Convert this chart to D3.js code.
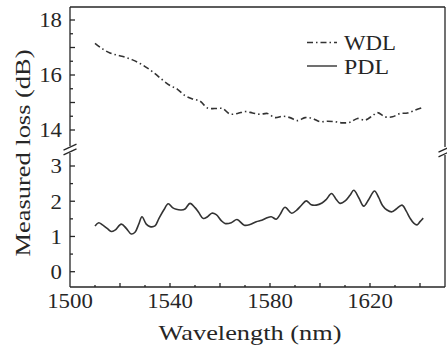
<!DOCTYPE html>
<html><head><meta charset="utf-8">
<script src="https://cdn.jsdelivr.net/npm/d3@7"></script>
<style>body{margin:0;background:#fff}svg{display:block}</style>
</head><body>
<script>
// ---- data ----
const wdlWavelength = [1510,1513,1516,1519,1522,1525,1528,1531,1534,1537,1540,1543,1546,1549,1552,1555,1558,1561,1564,1567,1570,1573,1576,1579,1582,1585,1588,1591,1594,1597,1600,1603,1606,1609,1612,1615,1618,1621,1623,1626,1629,1632,1635,1638,1641];
const wdlLoss = [17.15,16.95,16.8,16.72,16.65,16.55,16.42,16.25,16.05,15.82,15.62,15.48,15.25,15.13,15.05,14.8,14.78,14.78,14.58,14.6,14.67,14.62,14.57,14.6,14.45,14.5,14.45,14.34,14.45,14.42,14.3,14.32,14.3,14.26,14.28,14.42,14.36,14.52,14.63,14.48,14.48,14.6,14.62,14.72,14.82];
const pdlWavelength = [1510,1511.5,1513,1515,1516.5,1518,1520.5,1522.5,1524.5,1526,1527.5,1528.8,1530.5,1532,1534,1535.5,1537.5,1539.3,1541,1542.5,1544.5,1546,1548,1550,1551.5,1553.3,1555,1556.7,1558.5,1560.5,1562,1564.5,1566.8,1569.7,1572,1574.5,1576.7,1578.8,1580.5,1582.5,1584,1586,1588.7,1590.7,1592.5,1594.5,1596.5,1598.5,1600.8,1602.5,1604.6,1606.5,1608,1610.2,1612,1613.5,1615.5,1617.5,1619.5,1621.8,1623.5,1625,1626.8,1628.8,1630.5,1632.8,1634.5,1636,1637.5,1638.8,1640,1641.3];
const pdlLoss = [1.30,1.39,1.33,1.22,1.14,1.18,1.35,1.23,1.07,1.12,1.35,1.56,1.35,1.28,1.30,1.50,1.75,1.93,1.82,1.77,1.75,1.78,1.94,1.82,1.68,1.51,1.56,1.66,1.62,1.45,1.37,1.39,1.48,1.32,1.34,1.42,1.46,1.53,1.56,1.49,1.62,1.83,1.66,1.75,1.88,2.01,1.90,1.89,1.95,2.05,2.22,2.05,1.94,2.02,2.17,2.31,2.10,1.86,2.05,2.29,2.10,1.88,1.75,1.70,1.78,1.89,1.72,1.52,1.38,1.33,1.42,1.52];
const xTickLabels = [1500,1540,1580,1620];
const yUpperTickLabels = [14,16,18];
const yLowerTickLabels = [0,1,2,3];
const seriesNames = ["WDL","PDL"];
const xLabel = "Wavelength (nm)";
const yLabel = "Measured loss (dB)";

// ---- layout ----
const W = 447, H = 354;
const L = 70, R = 445, T = 7, B = 287;
const FONT = "'Liberation Serif', 'Times New Roman', serif";
const INK = "#262626";
const FS = 22;

const x = d3.scaleLinear().domain([1500,1650]).range([L,R]);
const yHi = d3.scaleLinear().domain([14,18]).range([130,20]);
const yLo = d3.scaleLinear().domain([0,3]).range([271.7,166]);

const svg = d3.select("body").append("svg").attr("width",W).attr("height",H)
  .style("font-family",FONT);

// frame
const g = svg.append("g").attr("stroke",INK).attr("stroke-width",1.3).attr("fill","none");
g.append("line").attr("x1",L).attr("x2",R).attr("y1",T).attr("y2",T);
g.append("line").attr("x1",L).attr("x2",R).attr("y1",B).attr("y2",B);
g.append("line").attr("x1",L).attr("x2",L).attr("y1",T).attr("y2",146);
g.append("line").attr("x1",L).attr("x2",L).attr("y1",153).attr("y2",B);
g.append("line").attr("x1",R).attr("x2",R).attr("y1",T).attr("y2",147);
g.append("line").attr("x1",R).attr("x2",R).attr("y1",155).attr("y2",B);
// break marks
[[L,149.5],[R,151.5]].forEach(([cx,cy])=>{
  [-2.3,2.3].forEach(o=>{
    g.append("line").attr("x1",cx-6.5).attr("y1",cy+o+3).attr("x2",cx+6.5).attr("y2",cy+o-3);
  });
});

const digitW = 11.4;
// x ticks
const xMinor = d3.range(1510,1650,10);
svg.append("g").selectAll("line").data(xMinor).join("line")
  .attr("x1",d=>x(d)).attr("x2",d=>x(d))
  .attr("y1",B).attr("y2",d=>B-(d%20===0?4:2))
  .attr("stroke",INK).attr("stroke-width",1.3);
svg.append("g").selectAll("text").data(xTickLabels).join("text")
  .attr("x",d=>x(d)).attr("y",B+21).attr("text-anchor","middle")
  .attr("font-size",FS).attr("fill",INK)
  .attr("textLength",d=>String(d).length*digitW).attr("lengthAdjust","spacingAndGlyphs")
  .text(d=>d);

// y ticks upper
const yHiT = d3.range(14,18.01,0.5);
svg.append("g").selectAll("line").data(yHiT).join("line")
  .attr("x1",L).attr("x2",d=>L+(d%1===0?5:3))
  .attr("y1",d=>yHi(d)).attr("y2",d=>yHi(d))
  .attr("stroke",INK).attr("stroke-width",1.3);
svg.append("g").selectAll("text").data(yUpperTickLabels).join("text")
  .attr("x",L-8).attr("y",d=>yHi(d)+7.3).attr("text-anchor","end")
  .attr("font-size",FS).attr("fill",INK)
  .attr("textLength",d=>String(d).length*digitW).attr("lengthAdjust","spacingAndGlyphs")
  .text(d=>d);
// y ticks lower
const yLoT = d3.range(0,3.01,0.5);
svg.append("g").selectAll("line").data(yLoT).join("line")
  .attr("x1",L).attr("x2",d=>L+(d%1===0?5:3))
  .attr("y1",d=>yLo(d)).attr("y2",d=>yLo(d))
  .attr("stroke",INK).attr("stroke-width",1.3);
svg.append("g").selectAll("text").data(yLowerTickLabels).join("text")
  .attr("x",L-8).attr("y",d=>yLo(d)+7.3).attr("text-anchor","end")
  .attr("font-size",FS).attr("fill",INK)
  .attr("textLength",d=>String(d).length*digitW).attr("lengthAdjust","spacingAndGlyphs")
  .text(d=>d);

// axis titles
svg.append("text").attr("x",250).attr("y",340).attr("text-anchor","middle")
  .attr("font-size",FS).attr("fill",INK)
  .attr("textLength",183).attr("lengthAdjust","spacingAndGlyphs").text(xLabel);
svg.append("text").attr("transform","translate(30,153) rotate(-90)").attr("text-anchor","middle")
  .attr("font-size",FS).attr("fill",INK)
  .attr("textLength",207).attr("lengthAdjust","spacingAndGlyphs").text(yLabel);

// lines
const wdl = wdlWavelength.map((w,i)=>[w,wdlLoss[i]]);
const pdl = pdlWavelength.map((w,i)=>[w,pdlLoss[i]]);
const lineHi = d3.line().x(d=>x(d[0])).y(d=>yHi(d[1])).curve(d3.curveCatmullRom);
const lineLo = d3.line().x(d=>x(d[0])).y(d=>yLo(d[1])).curve(d3.curveCatmullRom);
svg.append("path").attr("d",lineHi(wdl)).attr("fill","none").attr("stroke","#333")
  .attr("stroke-width",1.6).attr("stroke-dasharray","6,3,1.5,3");
svg.append("path").attr("d",lineLo(pdl)).attr("fill","none").attr("stroke","#333")
  .attr("stroke-width",1.6);

// legend
const lg = svg.append("g");
lg.append("line").attr("x1",307).attr("x2",337).attr("y1",42.5).attr("y2",42.5)
  .attr("stroke","#333").attr("stroke-width",1.4).attr("stroke-dasharray","6,3,1.5,3");
lg.append("line").attr("x1",307).attr("x2",337).attr("y1",66).attr("y2",66)
  .attr("stroke","#333").attr("stroke-width",1.4);
lg.append("text").attr("x",344).attr("y",49.5).attr("font-size",FS).attr("fill",INK)
  .attr("textLength",52).attr("lengthAdjust","spacingAndGlyphs").text(seriesNames[0]);
lg.append("text").attr("x",344).attr("y",74).attr("font-size",FS).attr("fill",INK)
  .attr("textLength",45).attr("lengthAdjust","spacingAndGlyphs").text(seriesNames[1]);
</script>
</body></html>
